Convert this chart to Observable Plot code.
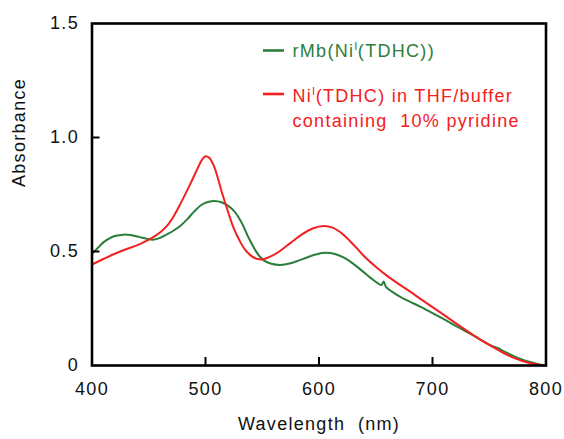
<!DOCTYPE html>
<html>
<head>
<meta charset="utf-8">
<script src="https://cdn.jsdelivr.net/npm/d3@7"></script>
<script src="https://cdn.jsdelivr.net/npm/@observablehq/plot@0.6"></script>
<style>
  html, body { margin: 0; padding: 0; background: #fff; }
</style>
</head>
<body>
<div id="chart"></div>
<script>
// ---- data ----
const greenWl  = [400,405,410,415,420,428,435,442,448,454,460,466,472,478,484,490,496,502,508,514,520,526,532,538,544,548,552,558,566,574,582,590,598,606,614,622,630,638,646,652,655,657,659,664,672,680,690,700,710,720,730,740,748,754,758,762,770,778,786,794,800];
const greenAbs = [0.49,0.515,0.54,0.557,0.568,0.574,0.571,0.563,0.556,0.552,0.56,0.575,0.592,0.613,0.642,0.675,0.703,0.717,0.722,0.716,0.70,0.673,0.625,0.56,0.505,0.477,0.459,0.446,0.441,0.447,0.46,0.475,0.488,0.494,0.489,0.473,0.447,0.415,0.382,0.36,0.353,0.368,0.345,0.325,0.30,0.28,0.256,0.23,0.203,0.175,0.148,0.12,0.097,0.082,0.076,0.064,0.045,0.028,0.015,0.005,0];
const redWl  = [400,410,420,430,440,448,455,461,466,472,478,486,492,497,500,503,507,511,515,520,525,530,535,540,545,550,556,565,575,585,595,604,612,620,630,640,650,660,670,680,690,700,710,720,730,740,750,760,770,780,790,800];
const redAbs = [0.443,0.467,0.49,0.51,0.528,0.547,0.566,0.588,0.612,0.655,0.71,0.79,0.853,0.903,0.918,0.912,0.88,0.82,0.75,0.672,0.60,0.548,0.507,0.482,0.468,0.465,0.475,0.50,0.538,0.575,0.602,0.612,0.605,0.58,0.532,0.478,0.433,0.393,0.358,0.325,0.29,0.256,0.222,0.187,0.153,0.12,0.09,0.062,0.037,0.019,0.007,0];

const seriesNames = ["rMb(NiI(TDHC))", "NiI(TDHC) in THF/buffer containing 10% pyridine"];
const seriesColors = ["#2b7d3a", "#f42020"];

const xTickValues = [400, 500, 600, 700, 800];
const yTickValues = [0, 0.5, 1.0, 1.5];
const xLabel = "Wavelength  (nm)";
const yLabel = "Absorbance";

// ---- build table ----
const rows = [
  ...greenWl.map((w, i) => ({wl: w, abs: greenAbs[i], series: seriesNames[0]})),
  ...redWl.map((w, i) => ({wl: w, abs: redAbs[i], series: seriesNames[1]}))
];

const W = 564, H = 439;
const mL = 91.5, mR = 18.5, mT = 23, mB = 74;
const plotH = H - mT - mB, plotW = W - mL - mR;
const fontFam = "'Liberation Sans', Arial, Helvetica, sans-serif";

function legend(index, scales, values, dims) {
  const g = d3.create("svg:g")
    .attr("font-family", fontFam)
    .attr("font-size", 18)
    .attr("text-anchor", "start")
    .attr("letter-spacing", "1.3px");
  const items = [
    {color: seriesColors[0], ly: 50.5, lines: [[["rMb(Ni", false], ["I", true], ["(TDHC))", false]]], by: 56.5},
    {color: seriesColors[1], ly: 94, lines: [[["Ni", false], ["I", true], ["(TDHC) in THF/buffer", false]], [["containing  10% pyridine", false]]], by: 101.5}
  ];
  for (const it of items) {
    g.append("line")
      .attr("x1", 263).attr("x2", 284)
      .attr("y1", it.ly).attr("y2", it.ly)
      .attr("stroke", it.color).attr("stroke-width", 2.6);
    it.lines.forEach((parts, li) => {
      const t = g.append("text")
        .attr("x", 292.5).attr("y", it.by + li * 25.5)
        .attr("text-anchor", "start")
        .attr("fill", it.color);
      parts.forEach(([s, sup], pi) => {
        const ts = t.append("tspan").text(s);
        if (sup) ts.attr("font-size", 11).attr("dy", -7).attr("letter-spacing", "0.5px");
        else if (pi > 0) ts.attr("dy", 7);
      });
    });
  }
  return g.node();
}

const chart = Plot.plot({
  width: W,
  height: H,
  marginLeft: mL,
  marginRight: mR,
  marginTop: mT,
  marginBottom: mB,
  style: {fontFamily: fontFam, fontSize: "18px", letterSpacing: "1.3px", color: "#111", background: "#fff"},
  x: {domain: [400, 800]},
  y: {domain: [0, 1.5]},
  color: {domain: seriesNames, range: seriesColors},
  marks: [
    Plot.axisX({ticks: xTickValues, tickSize: 0, tickPadding: 17, tickFormat: d => String(d), label: null}),
    Plot.axisY({ticks: yTickValues, tickSize: 0, tickPadding: 13, tickFormat: d => d === 0 ? "0" : d.toFixed(1), label: null}),
    Plot.line(rows, {x: "wl", y: "abs", z: "series", stroke: "series", strokeWidth: 2, curve: "catmull-rom"}),
    Plot.ruleX(xTickValues.slice(1, -1), {x: d => d, insetTop: plotH - 8, stroke: "#000", strokeWidth: 2}),
    Plot.ruleY(yTickValues.slice(1, -1), {y: d => d, insetRight: plotW - 8, stroke: "#000", strokeWidth: 2}),
    Plot.frame({stroke: "#000", strokeWidth: 2.6}),
    Plot.text([xLabel], {text: d => d, frameAnchor: "bottom", dy: 64, fontSize: 18, fill: "#111"}),
    Plot.text([yLabel], {text: d => d, frameAnchor: "left", rotate: -90, dx: -73, dy: -7.5, fontSize: 18, fill: "#111"}),
    legend
  ]
});
document.getElementById("chart").appendChild(chart);
</script>
</body>
</html>
